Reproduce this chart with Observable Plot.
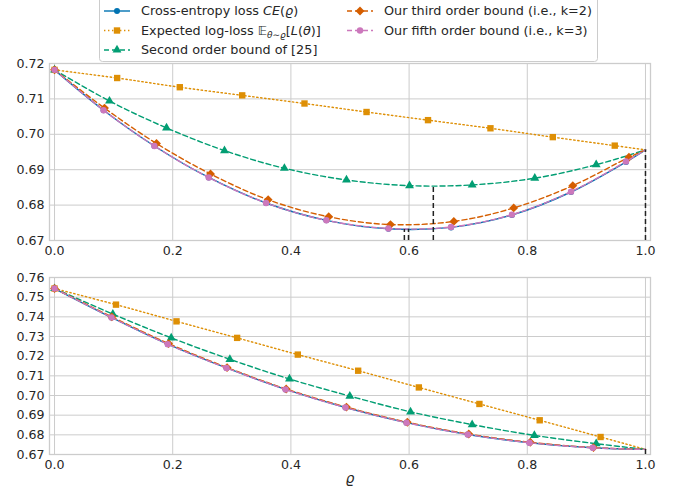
<!DOCTYPE html>
<html><head><meta charset="utf-8">
<script src="https://cdn.jsdelivr.net/npm/d3@7"></script>
<script src="https://cdn.jsdelivr.net/npm/@observablehq/plot@0.6"></script>
<style>
body{margin:0;background:#fff;}
#wrap{position:relative;width:680px;height:496px;font-family:"DejaVu Sans",sans-serif;overflow:hidden;}
#top,#bot{position:absolute;left:0;}
#top{top:0px;}
#bot{top:262px;}
#legend{position:absolute;left:0;top:0;z-index:5;}
#xlabel{position:absolute;left:340px;top:470px;width:20px;text-align:center;font-style:italic;font-size:14px;color:#262626;}
</style></head>
<body><div id="wrap">
<div id="top"></div><div id="bot"></div>
<svg id="legend" width="680" height="70" font-family="DejaVu Sans" font-size="12.8" fill="#262626">
  <rect x="99.5" y="-6" width="498" height="67.5" rx="3" fill="white" fill-opacity="0.85" stroke="#cccccc" stroke-width="1"/>
  <g id="legItems"></g>
</svg>
<div id="xlabel">ϱ</div>
</div>
<script>
// ---------- data ----------
const xTicks = [0, 0.2, 0.4, 0.6, 0.8, 1.0];
const yTicksTop = [0.67, 0.68, 0.69, 0.70, 0.71, 0.72];
const yTicksBot = [0.67, 0.68, 0.69, 0.70, 0.71, 0.72, 0.73, 0.74, 0.75, 0.76];
const seriesNames = ["Cross-entropy loss", "Expected log-loss", "Second order bound of [25]", "Our third order bound (i.e., k=2)", "Our fifth order bound (i.e., k=3)"];

// top panel
const topCE_rho   = [0, 0.083, 0.169, 0.261, 0.358, 0.460, 0.565, 0.671, 0.774, 0.874, 0.967, 1.0];
const topCE_val   = [0.7182, 0.7068, 0.6967, 0.6878, 0.6806, 0.6757, 0.6733, 0.6737, 0.6772, 0.6837, 0.6922, 0.6956];
const topExp_rho  = [0, 0.106, 0.212, 0.3176, 0.423, 0.528, 0.632, 0.7377, 0.8432, 0.948, 1.0];
const topExp_val  = [0.7182, 0.7159, 0.7133, 0.7110, 0.7087, 0.7063, 0.7040, 0.7017, 0.6992, 0.6968, 0.6956];
const topSec_rho  = [0, 0.093, 0.1895, 0.2876, 0.389, 0.494, 0.6007, 0.7067, 0.8127, 0.9166, 1.0];
const topSec_val  = [0.7182, 0.7094, 0.7018, 0.6954, 0.6904, 0.6871, 0.6855, 0.6857, 0.6876, 0.6914, 0.6956];
const topThird_rho = [0, 0.0846, 0.1726, 0.264, 0.3615, 0.464, 0.5685, 0.6757, 0.777, 0.877, 0.972, 1.0];
const topThird_val = [0.7182, 0.7074, 0.6974, 0.6888, 0.6815, 0.6767, 0.6745, 0.6754, 0.6792, 0.6855, 0.6935, 0.6956];
const topFifth_rho = [0, 0.083, 0.169, 0.261, 0.358, 0.460, 0.565, 0.671, 0.774, 0.874, 0.967, 1.0];
const topFifth_val = [0.7182, 0.7068, 0.6967, 0.6878, 0.6806, 0.6757, 0.6734, 0.6738, 0.6773, 0.6838, 0.6923, 0.6956];
const topMin_rho = [0.592, 0.599, 0.641, 1.0];
const topMin_val = [0.6731, 0.6732, 0.6853, 0.6956];

// bottom panel
const botCE_rho   = [0, 0.0964, 0.1917, 0.291, 0.391, 0.4924, 0.5956, 0.6993, 0.8037, 0.9109, 1.0];
const botCE_val   = [0.7544, 0.7397, 0.7261, 0.7140, 0.7031, 0.6939, 0.6862, 0.6802, 0.6760, 0.6734, 0.6726];
const botExp_rho  = [0, 0.104, 0.2064, 0.309, 0.4117, 0.5138, 0.6165, 0.719, 0.821, 0.924, 1.0];
const botExp_val  = [0.7544, 0.7462, 0.7377, 0.7293, 0.7208, 0.7126, 0.7041, 0.6957, 0.6874, 0.6789, 0.6726];
const botSec_rho  = [0, 0.0987, 0.1975, 0.2967, 0.3976, 0.4997, 0.6024, 0.7067, 0.812, 0.9166, 1.0];
const botSec_val  = [0.7544, 0.7414, 0.7293, 0.7184, 0.7084, 0.6997, 0.6917, 0.6852, 0.6797, 0.6755, 0.6726];
const botThird_rho = [0, 0.097, 0.193, 0.292, 0.392, 0.494, 0.597, 0.701, 0.805, 0.912, 1.0];
const botThird_val = [0.7544, 0.7400, 0.7264, 0.7142, 0.7033, 0.6941, 0.6864, 0.6804, 0.6762, 0.6735, 0.6726];
const botFifth_rho = [0, 0.0964, 0.1917, 0.291, 0.391, 0.4924, 0.5956, 0.6993, 0.8037, 0.9109, 1.0];
const botFifth_val = [0.7544, 0.7397, 0.7261, 0.7140, 0.7031, 0.6939, 0.6862, 0.6802, 0.6760, 0.6734, 0.6726];
const botMin_rho = [1.0];
const botMin_val = [0.6726];

// ---------- styles ----------
const STYLES = [
  {color: "#0173b2", dash: null,   symbol: "circle",   r: 3.0},
  {color: "#de8f05", dash: "1.4,2.6", symbol: "square", r: 3.6},
  {color: "#029e73", dash: "5,3",  symbol: "triangle", r: 3.3},
  {color: "#d55e00", dash: "5,3",  symbol: "diamond2", r: 4.0},
  {color: "#cc78bc", dash: "5,3",  symbol: "circle",   r: 3.2}
];
const FONT = "DejaVu Sans";
const rows = (rho, val) => rho.map((r, i) => ({rho: r, v: val[i]}));

function panel({height, marginTop, marginBottom, yDomain, yTicks, series, minRho, minVal}) {
  const marks = [
    Plot.ruleX(xTicks, {x: d => d, stroke: "#cccccc", strokeWidth: 1}),
    Plot.ruleY(yTicks, {y: d => d, stroke: "#cccccc", strokeWidth: 1}),
    Plot.frame({stroke: "#cccccc", strokeWidth: 1.3})
  ];
  series.forEach(([rho, val], i) => {
    const st = STYLES[i];
    const data = rows(rho, val);
    marks.push(Plot.line(data, {x: "rho", y: "v", stroke: st.color, strokeWidth: 1.4,
      strokeDasharray: st.dash, curve: "catmull-rom"}));
    marks.push(Plot.dot(data.filter(d => d.rho < 1), {x: "rho", y: "v", symbol: st.symbol,
      fill: st.color, r: st.r, stroke: "none"}));
  });
  marks.push(Plot.ruleX(rows(minRho, minVal), {x: "rho", y1: d => yDomain[0], y2: "v",
    stroke: "#222222", strokeWidth: 1.5, strokeDasharray: "5,3"}));
  return Plot.plot({
    width: 680, height, marginLeft: 49, marginRight: 30, marginTop, marginBottom,
    style: {fontFamily: FONT, fontSize: "12.6px", color: "#262626", background: "transparent", overflow: "visible"},
    x: {domain: [-0.0085, 1.0085], ticks: xTicks, tickFormat: d3.format(".1f"), tickSize: 0, tickPadding: 6, label: null},
    y: {domain: yDomain, ticks: yTicks, tickFormat: d3.format(".2f"), tickSize: 0, tickPadding: 5, label: null},
    marks
  });
}

document.getElementById("top").appendChild(panel({
  height: 262, marginTop: 63, marginBottom: 22, yDomain: [0.67, 0.72], yTicks: yTicksTop,
  series: [[topCE_rho, topCE_val], [topExp_rho, topExp_val], [topSec_rho, topSec_val],
           [topThird_rho, topThird_val], [topFifth_rho, topFifth_val]],
  minRho: topMin_rho, minVal: topMin_val
}));
document.getElementById("bot").appendChild(panel({
  height: 234, marginTop: 15, marginBottom: 42, yDomain: [0.67, 0.76], yTicks: yTicksBot,
  series: [[botCE_rho, botCE_val], [botExp_rho, botExp_val], [botSec_rho, botSec_val],
           [botThird_rho, botThird_val], [botFifth_rho, botFifth_val]],
  minRho: botMin_rho, minVal: botMin_val
}));

// ---------- legend ----------
const leg = document.getElementById("legItems");
const legPos = [
  {x0: 104, x1: 130, tx: 141, y: 11},
  {x0: 104, x1: 130, tx: 141, y: 30.5},
  {x0: 104, x1: 130, tx: 141, y: 50},
  {x0: 347, x1: 373, tx: 384, y: 11},
  {x0: 347, x1: 373, tx: 384, y: 30.5}
];
const legExtra = [
  '<tspan font-style="italic">CE</tspan>(<tspan font-style="italic">ϱ</tspan>)',
  '𝔼<tspan font-size="9" dy="3.5" font-style="italic">θ∼ϱ</tspan><tspan dy="-3.5">[</tspan><tspan font-style="italic">L</tspan>(<tspan font-style="italic">θ</tspan>)]',
  '', '', ''
];
function symbolPath(name, r) {
  const sym = {circle: d3.symbolCircle, square: d3.symbolSquare, triangle: d3.symbolTriangle, diamond2: d3.symbolDiamond2}[name];
  return d3.symbol(sym, Math.PI * r * r)();
}
let html = "";
seriesNames.forEach((name, i) => {
  const p = legPos[i], st = STYLES[i];
  const mx = (p.x0 + p.x1) / 2;
  html += `<line x1="${p.x0}" x2="${p.x1}" y1="${p.y}" y2="${p.y}" stroke="${st.color}" stroke-width="1.4" ${st.dash ? `stroke-dasharray="${st.dash}"` : ""}/>`;
  html += `<path transform="translate(${mx},${p.y})" d="${symbolPath(st.symbol, st.r)}" fill="${st.color}"/>`;
  html += `<text x="${p.tx}" y="${p.y}" dy="0.35em">${name} ${legExtra[i]}</text>`;
});
leg.innerHTML = html;
</script>
</body></html>
